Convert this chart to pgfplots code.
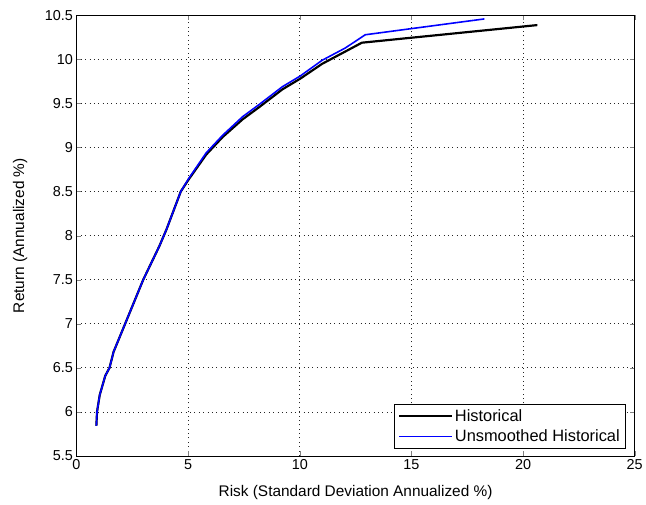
\documentclass[border=0pt]{standalone}
\usepackage{pgfplots}
\pgfplotsset{compat=1.18}
\usepackage{fontspec}
\setmainfont{Liberation Sans}

\begin{document}
\begin{tikzpicture}
  \begin{axis}[
      scale only axis, width=562pt, height=443.5pt,
      xmin=0, xmax=25, ymin=5.5, ymax=10.5,
      xtick={0,5,...,25}, ytick={5.5,6,...,10.5},
      yticklabels={5.5,6,6.5,7,7.5,8,8.5,9,9.5,10,10.5},
      /pgf/number format/assume math mode=true,
      tick label style={font=\fontsize{14.5}{16}\selectfont},
      label style={font=\fontsize{15.5}{18}\selectfont},
      tick align=inside, major tick length=5pt,
      xmajorgrids, ymajorgrids,
      major grid style={black!85, line width=0.7pt, dash pattern=on 1pt off 3.4pt},
      axis line style={black, line width=0.8pt},
      xlabel={Risk (Standard Deviation Annualized \%)},
      ylabel={Return (Annualized \%)},
      xlabel style={at={(axis description cs:0.5,-0.083)}, anchor=center},
      ylabel style={at={(axis description cs:-0.101,0.5)}, anchor=center},
      legend style={at={(axis description cs:0.9847,0.0165)}, anchor=south east,
        draw=black, line width=0.8pt, font=\fontsize{16.5}{19}\selectfont,
        row sep=3pt, inner xsep=4pt, inner ysep=3pt},
      legend cell align=left,
      legend image code/.code={\draw[#1] (0cm,0cm) -- (53pt,0cm);},
    ]
    % Historical
    \addplot[black, line width=2.2pt] coordinates {
      (0.89,5.84) (0.92,6.0) (1.04,6.19) (1.29,6.41) (1.48,6.50) (1.66,6.68)
      (2.18,7.0) (2.99,7.5) (3.71,7.88) (4.03,8.07) (4.67,8.5) (5.03,8.64)
      (5.81,8.92) (6.55,9.12) (7.44,9.32) (8.19,9.46) (9.22,9.66) (10.01,9.78)
      (11.0,9.95) (12.04,10.09) (12.78,10.19) (20.64,10.39)
    };
    \addlegendentry{Historical}
    % Unsmoothed Historical
    \addplot[blue, line width=1.6pt] coordinates {
      (0.89,5.84) (0.92,6.0) (1.04,6.19) (1.29,6.41) (1.48,6.50) (1.66,6.68)
      (2.18,7.0) (2.99,7.5) (3.71,7.88) (4.03,8.07) (4.67,8.5) (5.03,8.65)
      (5.81,8.94) (6.55,9.14) (7.44,9.35) (8.19,9.49) (9.22,9.69) (10.01,9.81)
      (11.0,9.99) (12.04,10.13) (12.93,10.28) (18.27,10.46)
    };
    \addlegendentry{Unsmoothed Historical}
  \end{axis}
  \path (current axis.south west) ++(-77pt,-49pt) rectangle ++(646pt,508pt);
\end{tikzpicture}
\end{document}
